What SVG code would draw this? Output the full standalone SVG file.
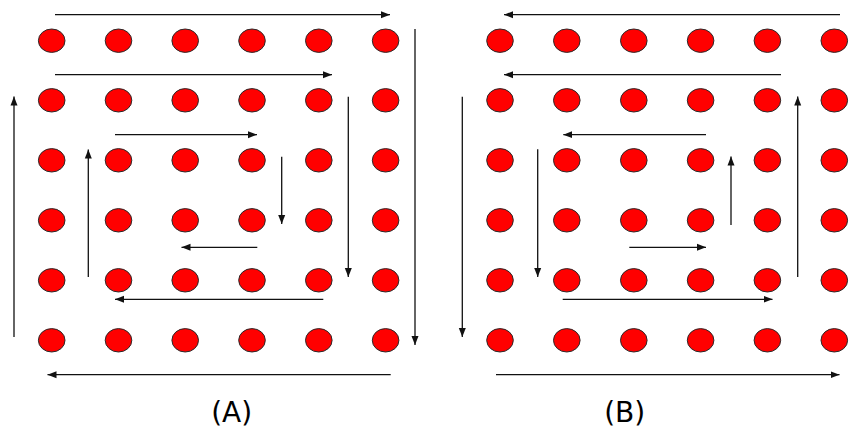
<svg xmlns="http://www.w3.org/2000/svg" width="857" height="430" viewBox="0 0 857 430">
<defs>
<style>
.dot{fill:#ff0000;stroke:#2a2a2a;stroke-width:1}
.ar{fill:none;stroke:#111;stroke-width:1.3;marker-end:url(#ah)}
.lbl{font-family:"DejaVu Sans",Verdana,sans-serif;font-size:28px;fill:#000;text-anchor:middle}
</style>
<marker id="ah" markerUnits="userSpaceOnUse" markerWidth="10" markerHeight="8" viewBox="0 0 10 8" refX="9" refY="4" orient="auto">
<path d="M0,0.5 L9,4 L0,7.5 Z" fill="#111"/>
</marker>
<ellipse id="d" class="dot" rx="13.3" ry="11.7"/>
</defs>
<rect width="857" height="430" fill="#fff"/>
<g id="gridA">
<g id="A-r1"><use href="#d" x="51.7" y="40.7"/><use href="#d" x="118.5" y="40.7"/><use href="#d" x="185.2" y="40.7"/><use href="#d" x="252" y="40.7"/><use href="#d" x="318.8" y="40.7"/><use href="#d" x="385.6" y="40.7"/></g>
<g id="A-r2"><use href="#d" x="51.7" y="100.3"/><use href="#d" x="118.5" y="100.3"/><use href="#d" x="185.2" y="100.3"/><use href="#d" x="252" y="100.3"/><use href="#d" x="318.8" y="100.3"/><use href="#d" x="385.6" y="100.3"/></g>
<g id="A-r3"><use href="#d" x="51.7" y="160.3"/><use href="#d" x="118.5" y="160.3"/><use href="#d" x="185.2" y="160.3"/><use href="#d" x="252" y="160.3"/><use href="#d" x="318.8" y="160.3"/><use href="#d" x="385.6" y="160.3"/></g>
<g id="A-r4"><use href="#d" x="51.7" y="220.3"/><use href="#d" x="118.5" y="220.3"/><use href="#d" x="185.2" y="220.3"/><use href="#d" x="252" y="220.3"/><use href="#d" x="318.8" y="220.3"/><use href="#d" x="385.6" y="220.3"/></g>
<g id="A-r5"><use href="#d" x="51.7" y="280.3"/><use href="#d" x="118.5" y="280.3"/><use href="#d" x="185.2" y="280.3"/><use href="#d" x="252" y="280.3"/><use href="#d" x="318.8" y="280.3"/><use href="#d" x="385.6" y="280.3"/></g>
<g id="A-r6"><use href="#d" x="51.7" y="340.3"/><use href="#d" x="118.5" y="340.3"/><use href="#d" x="185.2" y="340.3"/><use href="#d" x="252" y="340.3"/><use href="#d" x="318.8" y="340.3"/><use href="#d" x="385.6" y="340.3"/></g>
</g>
<g id="gridB">
<g id="B-r1"><use href="#d" x="500" y="40.7"/><use href="#d" x="566.8" y="40.7"/><use href="#d" x="633.8" y="40.7"/><use href="#d" x="700.6" y="40.7"/><use href="#d" x="767.4" y="40.7"/><use href="#d" x="834.3" y="40.7"/></g>
<g id="B-r2"><use href="#d" x="500" y="100.3"/><use href="#d" x="566.8" y="100.3"/><use href="#d" x="633.8" y="100.3"/><use href="#d" x="700.6" y="100.3"/><use href="#d" x="767.4" y="100.3"/><use href="#d" x="834.3" y="100.3"/></g>
<g id="B-r3"><use href="#d" x="500" y="160.3"/><use href="#d" x="566.8" y="160.3"/><use href="#d" x="633.8" y="160.3"/><use href="#d" x="700.6" y="160.3"/><use href="#d" x="767.4" y="160.3"/><use href="#d" x="834.3" y="160.3"/></g>
<g id="B-r4"><use href="#d" x="500" y="220.3"/><use href="#d" x="566.8" y="220.3"/><use href="#d" x="633.8" y="220.3"/><use href="#d" x="700.6" y="220.3"/><use href="#d" x="767.4" y="220.3"/><use href="#d" x="834.3" y="220.3"/></g>
<g id="B-r5"><use href="#d" x="500" y="280.3"/><use href="#d" x="566.8" y="280.3"/><use href="#d" x="633.8" y="280.3"/><use href="#d" x="700.6" y="280.3"/><use href="#d" x="767.4" y="280.3"/><use href="#d" x="834.3" y="280.3"/></g>
<g id="B-r6"><use href="#d" x="500" y="340.3"/><use href="#d" x="566.8" y="340.3"/><use href="#d" x="633.8" y="340.3"/><use href="#d" x="700.6" y="340.3"/><use href="#d" x="767.4" y="340.3"/><use href="#d" x="834.3" y="340.3"/></g>
</g>
<g id="connectors">
<!-- panel A -->
<line class="ar" x1="55" y1="14.7" x2="390" y2="14.7"/>
<line class="ar" x1="415" y1="29" x2="415" y2="345"/>
<line class="ar" x1="55" y1="74.7" x2="332" y2="74.7"/>
<line class="ar" x1="348.3" y1="96.7" x2="348.3" y2="277"/>
<line class="ar" x1="323.3" y1="299.3" x2="115" y2="299.3"/>
<line class="ar" x1="88.3" y1="277" x2="88.3" y2="149.5"/>
<line class="ar" x1="115" y1="134.7" x2="257" y2="134.7"/>
<line class="ar" x1="281.7" y1="156.7" x2="281.7" y2="224"/>
<line class="ar" x1="257.3" y1="247.3" x2="181.5" y2="247.3"/>
<line class="ar" x1="14" y1="337" x2="14" y2="96.5"/>
<line class="ar" x1="390.7" y1="374.7" x2="47.5" y2="374.7"/>
<!-- panel B -->
<line class="ar" x1="840" y1="14.7" x2="504" y2="14.7"/>
<line class="ar" x1="462.3" y1="96.7" x2="462.3" y2="337"/>
<line class="ar" x1="781" y1="74.7" x2="504" y2="74.7"/>
<line class="ar" x1="797.7" y1="277" x2="797.7" y2="96.5"/>
<line class="ar" x1="706" y1="134.7" x2="563.3" y2="134.7"/>
<line class="ar" x1="537.7" y1="149.3" x2="537.7" y2="277"/>
<line class="ar" x1="562.7" y1="299.3" x2="772.5" y2="299.3"/>
<line class="ar" x1="629.3" y1="247.3" x2="706" y2="247.3"/>
<line class="ar" x1="731" y1="225" x2="731" y2="156.5"/>
<line class="ar" x1="496" y1="374.7" x2="839.5" y2="374.7"/>
</g>
<g id="labels">
<text class="lbl" x="231.7" y="422">(A)</text>
<text class="lbl" x="624.7" y="422">(B)</text>
</g>
</svg>
